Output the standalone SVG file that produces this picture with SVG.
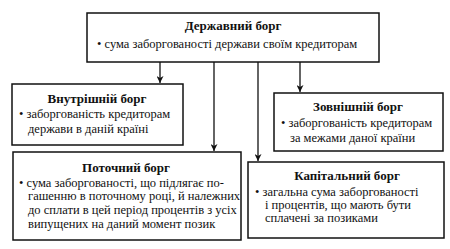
<svg xmlns="http://www.w3.org/2000/svg" width="450" height="249" viewBox="0 0 450 249">
<defs>
<marker id="ah" viewBox="0 0 10 10" refX="10" refY="5" markerWidth="7" markerHeight="7" orient="auto" markerUnits="userSpaceOnUse">
<path d="M0,0 L10,5 L0,10 L3,5 Z" fill="#111"/>
</marker>
<style>
.box{fill:#fff;stroke:#111;stroke-width:1.5}
.t{font-family:"Liberation Serif","Times New Roman",serif;font-size:13px;font-weight:bold;fill:#111;text-anchor:middle}
.b{font-family:"Liberation Serif","Times New Roman",serif;font-size:12.5px;fill:#111}
.c{fill:none;stroke:#111;stroke-width:1.3}
</style>
</defs>
<rect width="450" height="249" fill="#fff"/>
<g id="connectors">
<line class="c" x1="160" y1="62" x2="160" y2="83" marker-end="url(#ah)"/>
<line class="c" x1="214" y1="62" x2="214" y2="151" marker-end="url(#ah)"/>
<line class="c" x1="258" y1="62" x2="258" y2="161" marker-end="url(#ah)"/>
<line class="c" x1="300" y1="62" x2="300" y2="92" marker-end="url(#ah)"/>
</g>
<g id="derzhavnyi">
<rect class="box" x="87" y="13" width="292" height="49"/>
<text class="t" x="233" y="30">Державний борг</text>
<text class="b" x="97" y="48">• сума заборгованості держави своїм кредиторам</text>
</g>
<g id="vnutrishnii">
<rect class="box" x="12" y="84" width="171" height="61"/>
<text class="t" x="97" y="103">Внутрішній борг</text>
<text class="b" x="19" y="118">• заборгованість кредиторам</text>
<text class="b" x="28" y="133">держави в даній країні</text>
</g>
<g id="zovnishnii">
<rect class="box" x="274" y="93" width="169" height="58"/>
<text class="t" x="358" y="111">Зовнішній борг</text>
<text class="b" x="281" y="127">• заборгованість кредиторам</text>
<text class="b" x="290" y="142">за межами даної країни</text>
</g>
<g id="potochnyi">
<rect class="box" x="13" y="152" width="228" height="88"/>
<text class="t" x="126" y="172">Поточний борг</text>
<text class="b" x="19" y="187">• сума заборгованості, що підлягає по-</text>
<text class="b" x="28" y="200">гашенню в поточному році, й належних</text>
<text class="b" x="28" y="214">до сплати в цей період процентів з усіх</text>
<text class="b" x="28" y="228">випущених на даний момент позик</text>
</g>
<g id="kapitalnyi">
<rect class="box" x="248" y="162" width="196" height="76"/>
<text class="t" x="347" y="180">Капітальний борг</text>
<text class="b" x="255" y="196">• загальна сума заборгованості</text>
<text class="b" x="265" y="209">і процентів, що мають бути</text>
<text class="b" x="265" y="222">сплачені за позиками</text>
</g>
</svg>
